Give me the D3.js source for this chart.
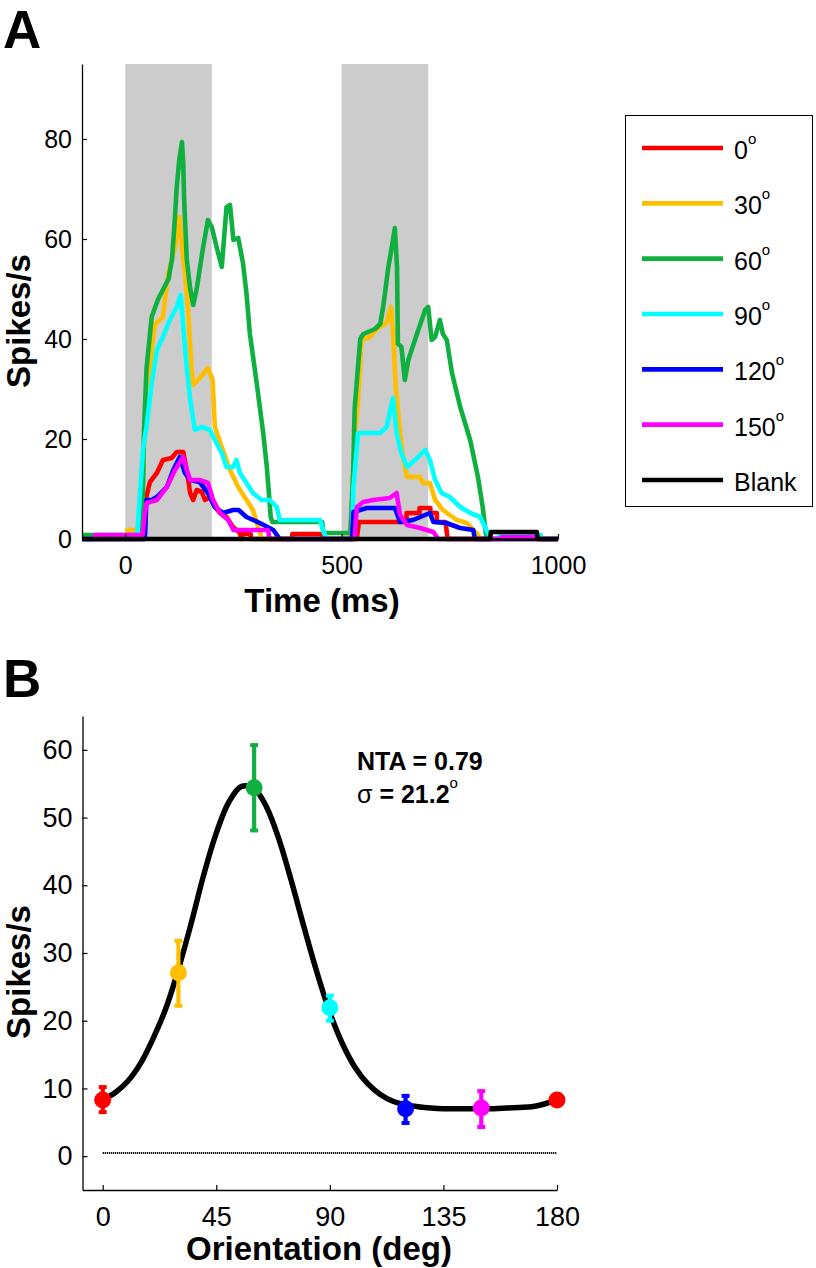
<!DOCTYPE html>
<html><head><meta charset="utf-8">
<script src="https://cdn.jsdelivr.net/npm/d3@7"></script>
<style>
body{margin:0;background:#fff}
svg{display:block}
text{font-family:"Liberation Sans",Arial,Helvetica,sans-serif;fill:#000}
</style>
</head><body><svg id="chart" width="816" height="1268"></svg>
<script>
// ---------------- Panel A data (time in ms, rate in spikes/s) ----------------
const timeTicks = [0, 500, 1000];
const rateTicksA = [0, 20, 40, 60, 80];
const stimWindows = [[0, 200], [500, 700]];
const seriesLabels = ["0", "30", "60", "90", "120", "150", "Blank"];

const trace0 = [[-100,0],[45,0],[47,7.8],[57,11.4],[73,13.2],[87,15.8],[107,16.2],[119,17.4],[134,17.4],[142,13.8],[150,9.2],[157,7.8],[165,9.8],[177,9.4],[184,7.8],[196,8.4],[207,6.4],[219,5.2],[234,4.4],[249,2.4],[265,1.2],[268,0],[270,0],[270,1],[290,1],[290,0],[386,0],[386,1],[456,1],[456,0],[535,0],[540,3.4],[650,3.4],[650,5.2],[680,5.2],[680,6.2],[705,6.2],[705,5.2],[720,5.2],[720,3.4],[740,3.4],[745,0],[1000,0]];
const trace30 = [[-100,0],[5,0],[5,1.8],[28,1.8],[32,5],[41,14],[49,28],[57,34],[65,41],[69,43],[87,44.4],[99,53],[115,58.4],[125,64.4],[131,58.4],[138,53],[145,45.8],[153,34.4],[157,30.8],[172,32.2],[191,34.2],[202,31.8],[207,22.4],[223,18.4],[242,13.8],[261,10.4],[280,7.8],[295,5.8],[307,2.4],[316,0],[520,0],[530,19.8],[538,27.8],[546,39.8],[565,40.4],[584,42.2],[604,43.2],[614,46.4],[619,41],[625,30.4],[635,21.2],[642,16.4],[651,12.4],[681,12.4],[688,11.2],[704,11.2],[716,7.8],[734,5.8],[766,3.8],[789,3.2],[812,1.2],[820,0],[1000,0]];
const trace60 = [[-100,0.8],[36,0.8],[39,1],[41,10],[43,21],[49,34],[61,44.4],[76,48],[85,49.5],[100,52],[108,56],[113,62],[119,70.4],[125,76],[131,79.4],[134,75],[136,68],[142,56],[150,50],[157,46.8],[165,50],[180,58.4],[191,63.8],[200,62.4],[211,58.4],[223,54.4],[234,66.4],[242,66.8],[250,59.8],[261,60.2],[272,55.2],[280,49.2],[288,41],[304,31],[319,21],[327,14.5],[333,8],[336,4.4],[340,3.4],[455,3.4],[458,1.2],[520,1.2],[524,8],[527,14.4],[530,26],[543,40],[550,41],[577,42],[589,43],[596,46.4],[608,54.4],[616,58.4],[623,62.2],[628,54.4],[630,39],[638,38.5],[646,31.8],[654,35.8],[674,41],[693,45.8],[700,46.4],[708,39.8],[716,40.4],[727,43.8],[734,41],[743,39.8],[755,33.2],[774,26.4],[797,19.8],[815,12.4],[826,6.4],[833,1.2],[838,0]];
const trace90 = [[-100,0],[27,0],[32,6.4],[41,17.8],[49,22.4],[61,31.2],[73,37.8],[87,40.4],[103,43.8],[119,46.4],[128,48.8],[134,42.4],[142,34.4],[150,27.8],[161,21.8],[177,22.4],[196,21.8],[207,19.8],[223,17.2],[234,14.4],[249,14.4],[257,15.8],[265,13.2],[280,11.2],[295,9.2],[315,7.8],[334,7.8],[350,6.4],[357,3.8],[450,3.8],[457,1.8],[465,0],[524,0],[527,10],[538,21.2],[589,21.2],[604,22.4],[611,25.2],[619,28.2],[627,21.2],[638,17.2],[651,14.4],[662,15.2],[677,16.4],[693,17.8],[704,15.8],[716,11.8],[731,9.2],[750,8.4],[774,6.4],[797,5.2],[820,4.4],[838,1.2],[845,0],[865,0],[865,0.8],[960,0.8],[960,0],[1000,0]];
const trace120 = [[-100,0],[45,0],[49,7.8],[61,7.8],[73,8.4],[96,10.4],[111,13.8],[126,16.4],[138,13.2],[150,11.8],[172,11.4],[191,9.2],[207,6.4],[226,5.2],[249,5.8],[262,5.8],[280,4.4],[311,3.2],[342,1.8],[357,0],[524,0],[527,5.4],[558,6.2],[623,6.2],[635,3.4],[665,3.8],[704,5.2],[712,3.4],[742,3.2],[774,2.2],[804,1.8],[808,0],[1000,0]];
const trace150 = [[-100,0],[-70,0],[-70,0.8],[40,0.8],[45,5],[49,7.2],[73,7.8],[96,10.4],[115,13.8],[134,16.4],[142,13.8],[150,11.8],[172,11.8],[191,11.2],[203,7.8],[219,5.2],[238,3.8],[250,1.8],[330,1.8],[333,0],[530,0],[535,6.4],[550,7.4],[573,7.8],[611,8.2],[627,9.2],[635,4.8],[651,2.8],[681,2.2],[712,1.4],[723,0],[870,0],[870,0.4],[950,0.4],[950,0],[1000,0]];
const traceBlank = [[-100,0],[843,0],[845,1.4],[951,1.4],[953,0],[1000,0]];

// ---------------- Panel B data (orientation in deg, rate in spikes/s) ----------------
const orientTicks = [0, 45, 90, 135, 180];
const rateTicksB = [0, 10, 20, 30, 40, 50, 60];
const orientations = [0, 30, 60, 90, 120, 150, 180];
const meanRate = [8.3, 27.1, 54.4, 21.9, 7.0, 7.1, 8.3];
const errLow  = [6.5, 22.2, 48.1, 20.0, 4.9, 4.3, null];
const errHigh = [10.2, 31.8, 60.7, 23.7, 8.9, 9.6, null];
const fitAngle = [0,5,10,15,20,25,30,35,40,45,50,55,60,65,70,75,80,85,90,95,100,105,110,115,120,125,130,135,140,145,150,155,160,165,170,175,180];
const fitRate  = [8.3,9.4,11.1,13.7,17.4,21.8,27.6,34.3,41.5,47.7,52.3,54.6,54.3,51.5,46.6,40.3,33.5,27.0,21.2,16.6,13.1,10.7,9.1,8.1,7.6,7.3,7.1,7.0,7.0,7.0,7.0,7.0,7.1,7.2,7.3,7.7,8.3];
const blankRate = 0.45;
const statNTA = "0.79";
const statSigma = "21.2";

// ---------------- styling ----------------
const palette = ["#ff0000", "#ffbf00", "#10b040", "#00ffff", "#0000ff", "#ff00ff", "#000000"];
const traces = [trace0, trace30, trace60, trace90, trace120, trace150, traceBlank];

const svg = d3.select("#chart");
svg.append("rect").attr("width", 816).attr("height", 1268).attr("fill", "#fff");

// ================= Panel A =================
const xA = d3.scaleLinear().domain([-100, 1000]).range([82, 558]);
const yA = d3.scaleLinear().domain([0, 95]).range([539, 64]);
const gA = svg.append("g");

gA.selectAll("rect.stim").data(stimWindows).enter().append("rect")
  .attr("class", "stim")
  .attr("x", d => xA(d[0])).attr("width", d => xA(d[1]) - xA(d[0]))
  .attr("y", yA(95)).attr("height", yA(0) - yA(95))
  .attr("fill", "#cccccc");

const lineA = d3.line().x(d => xA(d[0])).y(d => yA(d[1]));
gA.selectAll("path.trace").data(traces).enter().append("path")
  .attr("class", "trace")
  .attr("d", lineA)
  .attr("fill", "none")
  .attr("stroke", (d, i) => palette[i])
  .attr("stroke-width", 4.6)
  .attr("stroke-linejoin", "round");

const axYA = gA.append("g").attr("transform", `translate(${xA(-100)},0)`)
  .call(d3.axisLeft(yA).tickValues(rateTicksA).tickSize(-5).tickSizeOuter(0).tickPadding(10));
const axXA = gA.append("g").attr("transform", `translate(0,${yA(0)})`)
  .call(d3.axisBottom(xA).tickValues(timeTicks).tickFormat(d3.format("d")).tickSize(-5).tickSizeOuter(0).tickPadding(17));
[axYA, axXA].forEach(ax => {
  ax.attr("font-family", null).attr("font-size", null);
  ax.selectAll("text").attr("font-size", 25);
  ax.selectAll("path.domain").attr("stroke", "#000").attr("stroke-width", 1.3);
  ax.selectAll("line").attr("stroke", "#000").attr("stroke-width", 1.2);
});
axXA.selectAll("path.domain").attr("stroke-width", 2.5);

gA.append("text").attr("x", 322).attr("y", 612).attr("text-anchor", "middle")
  .attr("font-size", 33).attr("font-weight", "bold").text("Time (ms)");
gA.append("text").attr("transform", "translate(30,321) rotate(-90)").attr("text-anchor", "middle")
  .attr("font-size", 33).attr("font-weight", "bold").text("Spikes/s");
svg.append("text").attr("x", 3).attr("y", 48).attr("font-size", 53).attr("font-weight", "bold").text("A");

// legend
const legY = d3.scalePoint().domain(seriesLabels).range([148, 480]);
const leg = svg.append("g");
leg.append("rect").attr("x", 625.5).attr("y", 115.5).attr("width", 187).attr("height", 391)
  .attr("fill", "#fff").attr("stroke", "#000").attr("stroke-width", 1);
const items = leg.selectAll("g.item").data(seriesLabels).enter().append("g").attr("class", "item");
items.append("line").attr("x1", 642).attr("x2", 723)
  .attr("y1", d => legY(d)).attr("y2", d => legY(d))
  .attr("stroke", (d, i) => palette[i]).attr("stroke-width", 4.6);
const lt = items.append("text").attr("x", 734).attr("y", d => legY(d) + 11).attr("font-size", 25);
lt.append("tspan").text(d => d);
lt.filter(d => d !== "Blank").append("tspan").attr("font-size", 15).attr("dy", -15).text("o");

// ================= Panel B =================
const xB = d3.scaleLinear().domain([-8, 180]).range([82.5, 557]);
const yB = d3.scaleLinear().domain([-5, 65]).range([1190, 716]);
const gB = svg.append("g");

const axYB = gB.append("g").attr("transform", `translate(${xB(-8)},0)`)
  .call(d3.axisLeft(yB).tickValues(rateTicksB).tickSize(-5).tickSizeOuter(0).tickPadding(10));
const axXB = gB.append("g").attr("transform", `translate(0,${yB(-5)})`)
  .call(d3.axisBottom(xB).tickValues(orientTicks).tickSize(-5).tickSizeOuter(0).tickPadding(17));
[axYB, axXB].forEach(ax => {
  ax.attr("font-family", null).attr("font-size", null);
  ax.selectAll("text").attr("font-size", 27);
  ax.selectAll("path.domain").attr("stroke", "#000").attr("stroke-width", 1.3);
  ax.selectAll("line").attr("stroke", "#000").attr("stroke-width", 1.2);
});

// blank baseline
gB.append("line").attr("x1", xB(0)).attr("x2", xB(180))
  .attr("y1", yB(blankRate)).attr("y2", yB(blankRate))
  .attr("stroke", "#000").attr("stroke-width", 2).attr("stroke-dasharray", "1.2,0.8");

// fit curve
const fitPts = fitAngle.map((a, i) => [a, fitRate[i]]);
gB.append("path").datum(fitPts)
  .attr("d", d3.line().x(d => xB(d[0])).y(d => yB(d[1])).curve(d3.curveCatmullRom))
  .attr("fill", "none").attr("stroke", "#000").attr("stroke-width", 5.5);

// error bars + markers
const pts = orientations.map((o, i) => ({o, m: meanRate[i], lo: errLow[i], hi: errHigh[i], c: palette[i % 6]}));
const eb = gB.selectAll("g.pt").data(pts).enter().append("g").attr("class", "pt");
const withErr = eb.filter(d => d.lo !== null);
withErr.append("line").attr("x1", d => xB(d.o)).attr("x2", d => xB(d.o))
  .attr("y1", d => yB(d.lo)).attr("y2", d => yB(d.hi))
  .attr("stroke", d => d.c).attr("stroke-width", 4.2);
withErr.append("line").attr("x1", d => xB(d.o) - 4).attr("x2", d => xB(d.o) + 4)
  .attr("y1", d => yB(d.lo)).attr("y2", d => yB(d.lo))
  .attr("stroke", d => d.c).attr("stroke-width", 4);
withErr.append("line").attr("x1", d => xB(d.o) - 4).attr("x2", d => xB(d.o) + 4)
  .attr("y1", d => yB(d.hi)).attr("y2", d => yB(d.hi))
  .attr("stroke", d => d.c).attr("stroke-width", 4);
eb.append("circle").attr("cx", d => xB(d.o)).attr("cy", d => yB(d.m)).attr("r", 8.5)
  .attr("fill", d => d.c);

// stats text
gB.append("text").attr("x", 357).attr("y", 770).attr("font-size", 25).attr("font-weight", "bold")
  .text("NTA = " + statNTA);
const sg = gB.append("text").attr("x", 357).attr("y", 803).attr("font-size", 25).attr("font-weight", "bold");
sg.append("tspan").attr("font-weight", "normal").text("σ");
sg.append("tspan").text(" = " + statSigma);
sg.append("tspan").attr("font-size", 15).attr("font-weight", "normal").attr("dy", -15).text("o");

gB.append("text").attr("x", 319).attr("y", 1260).attr("text-anchor", "middle")
  .attr("font-size", 33).attr("font-weight", "bold").text("Orientation (deg)");
gB.append("text").attr("transform", "translate(30,972) rotate(-90)").attr("text-anchor", "middle")
  .attr("font-size", 33).attr("font-weight", "bold").text("Spikes/s");
svg.append("text").attr("x", 3).attr("y", 697).attr("font-size", 53).attr("font-weight", "bold").text("B");
</script></body></html>
